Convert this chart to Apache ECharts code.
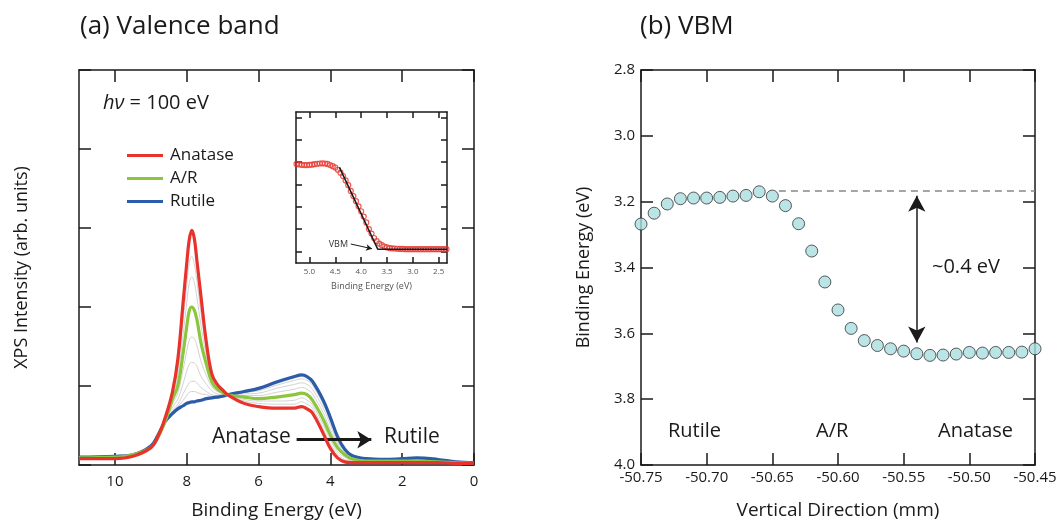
<!DOCTYPE html>
<html>
<head>
<meta charset="utf-8">
<script src="https://cdn.jsdelivr.net/npm/echarts@6/dist/echarts.min.js"></script>
<style>
html, body { margin: 0; padding: 0; background: #fff; }
#main { width: 1060px; height: 521px; }
</style>
</head>
<body>
<div id="main"></div>
<script>
// (a) valence band spectra, binding energy grid (eV)
var be = [11, 10, 9.5, 9.0, 8.8, 8.6, 8.4, 8.25, 8.1, 8.0, 7.93, 7.86, 7.79, 7.72, 7.6, 7.45, 7.3, 7.15, 7.0, 6.86, 6.4, 6.0,
          5.5, 5.0, 4.8, 4.65, 4.5, 4.2, 4.0, 3.8, 3.6, 3.4, 3.0, 2.5, 2.0, 1.6, 1.0, 0.5, 0];
var anatase = [0.08, 0.08, 0.11, 0.22, 0.36, 0.6, 0.92, 1.33, 2.06, 2.55, 2.85, 2.97, 2.87, 2.6, 2.12, 1.54, 1.15, 1.02, 0.95, 0.89, 0.78, 0.74,
               0.72, 0.72, 0.74, 0.71, 0.66, 0.40, 0.21, 0.09, 0.04, 0.03, 0.03, 0.03, 0.03, 0.03, 0.03, 0.02, 0.02];
var mixedAR = [0.09, 0.1, 0.13, 0.22, 0.35, 0.55, 0.83, 1.0, 1.42, 1.75, 1.95, 2.0, 1.96, 1.85, 1.54, 1.27, 1.05, 0.96, 0.92, 0.89, 0.86, 0.84,
               0.86, 0.89, 0.91, 0.89, 0.82, 0.58, 0.38, 0.22, 0.13, 0.08, 0.05, 0.05, 0.05, 0.05, 0.04, 0.03, 0.02];
var rutile = [0.1, 0.11, 0.13, 0.24, 0.38, 0.55, 0.65, 0.71, 0.75, 0.78, 0.79, 0.8, 0.8, 0.81, 0.82, 0.84, 0.85, 0.86, 0.87, 0.89, 0.93, 0.97,
              1.05, 1.12, 1.14, 1.12, 1.06, 0.82, 0.6, 0.36, 0.2, 0.12, 0.08, 0.07, 0.08, 0.09, 0.07, 0.04, 0.03];
// intermediate spectra (thin grey)
var grey1 = [0.08, 0.09, 0.12, 0.22, 0.36, 0.58, 0.89, 1.21, 1.84, 2.27, 2.55, 2.64, 2.55, 2.34, 1.92, 1.45, 1.12, 1.0, 0.94, 0.89, 0.81, 0.78,
             0.77, 0.77, 0.80, 0.77, 0.72, 0.46, 0.27, 0.14, 0.07, 0.05, 0.04, 0.04, 0.04, 0.04, 0.03, 0.02, 0.02];
var grey2 = [0.09, 0.09, 0.12, 0.22, 0.36, 0.57, 0.86, 1.13, 1.66, 2.05, 2.30, 2.38, 2.31, 2.13, 1.76, 1.37, 1.09, 0.98, 0.93, 0.89, 0.83, 0.81,
             0.81, 0.82, 0.85, 0.82, 0.76, 0.51, 0.32, 0.17, 0.10, 0.06, 0.04, 0.04, 0.04, 0.04, 0.04, 0.03, 0.02];
var grey3 = [0.09, 0.10, 0.13, 0.22, 0.36, 0.55, 0.77, 0.91, 1.21, 1.44, 1.58, 1.62, 1.60, 1.52, 1.31, 1.13, 0.99, 0.93, 0.91, 0.89, 0.88, 0.88,
             0.92, 0.96, 0.98, 0.96, 0.90, 0.66, 0.45, 0.27, 0.15, 0.09, 0.06, 0.06, 0.06, 0.06, 0.05, 0.03, 0.02];
var grey4 = [0.10, 0.11, 0.13, 0.23, 0.37, 0.55, 0.73, 0.83, 1.03, 1.19, 1.27, 1.30, 1.29, 1.25, 1.12, 1.02, 0.94, 0.90, 0.89, 0.89, 0.90, 0.91,
             0.97, 1.02, 1.04, 1.02, 0.96, 0.72, 0.51, 0.30, 0.17, 0.10, 0.07, 0.06, 0.07, 0.07, 0.06, 0.04, 0.03];
var grey5 = [0.10, 0.11, 0.13, 0.23, 0.37, 0.55, 0.69, 0.77, 0.90, 0.99, 1.04, 1.06, 1.06, 1.04, 0.98, 0.93, 0.89, 0.88, 0.88, 0.89, 0.92, 0.94,
             1.01, 1.07, 1.09, 1.07, 1.01, 0.77, 0.55, 0.33, 0.19, 0.11, 0.07, 0.06, 0.07, 0.08, 0.06, 0.04, 0.03];
var grey6 = [0.10, 0.11, 0.13, 0.23, 0.38, 0.55, 0.67, 0.74, 0.82, 0.88, 0.92, 0.93, 0.93, 0.92, 0.90, 0.89, 0.87, 0.87, 0.87, 0.89, 0.92, 0.95,
             1.03, 1.10, 1.12, 1.10, 1.04, 0.80, 0.58, 0.34, 0.19, 0.11, 0.08, 0.07, 0.08, 0.09, 0.07, 0.04, 0.03];

// inset: VB edge
var insetBE = [5.25, 5.20, 5.15, 5.10, 5.05, 5.00, 4.95, 4.90, 4.85, 4.80, 4.75, 4.70, 4.65, 4.60, 4.55, 4.50, 4.45, 4.40, 4.35, 4.30,
               4.25, 4.20, 4.15, 4.10, 4.05, 4.00, 3.95, 3.90, 3.85, 3.80, 3.75, 3.70, 3.65, 3.60, 3.55, 3.50, 3.45, 3.40, 3.35, 3.30,
               3.25, 3.20, 3.15, 3.10, 3.05, 3.00, 2.95, 2.90, 2.85, 2.80, 2.75, 2.70, 2.65, 2.60, 2.55, 2.50, 2.45, 2.40, 2.35];
var insetInt = [3.92, 3.90, 3.88, 3.87, 3.87, 3.88, 3.89, 3.91, 3.93, 3.94, 3.95, 3.94, 3.92, 3.87, 3.82, 3.76, 3.66, 3.53, 3.38, 3.18,
                2.97, 2.71, 2.48, 2.25, 2.02, 1.80, 1.56, 1.30, 1.00, 0.80, 0.60, 0.46, 0.35, 0.28, 0.22, 0.18, 0.15, 0.14, 0.13, 0.12,
                0.11, 0.11, 0.10, 0.10, 0.10, 0.10, 0.10, 0.10, 0.10, 0.10, 0.10, 0.10, 0.10, 0.10, 0.10, 0.10, 0.10, 0.10, 0.10];
var fitLine = [[4.42, 3.77], [3.68, 0.10], [2.34, 0.10]];
var insetTicks = [5.0, 4.5, 4.0, 3.5, 3.0, 2.5];

// (b) VBM vs position
var position = [-50.75, -50.74, -50.73, -50.72, -50.71, -50.70, -50.69, -50.68, -50.67, -50.66, -50.65,
                -50.64, -50.63, -50.62, -50.61, -50.60, -50.59, -50.58, -50.57, -50.56, -50.55,
                -50.54, -50.53, -50.52, -50.51, -50.50, -50.49, -50.48, -50.47, -50.46, -50.45];
var vbm = [3.268, 3.235, 3.207, 3.191, 3.189, 3.189, 3.187, 3.183, 3.181, 3.170, 3.183,
           3.212, 3.267, 3.350, 3.444, 3.529, 3.585, 3.622, 3.637, 3.647, 3.654,
           3.662, 3.667, 3.666, 3.663, 3.658, 3.660, 3.658, 3.658, 3.657, 3.647];

var FONT = "'Open Sans', 'Noto Sans', sans-serif";
var INK = '#1a1a1a';

function pairs(xs, ys) {
    var res = [];
    for (var i = 0; i < xs.length; i++) res.push([xs[i], ys[i]]);
    return res;
}

var frameLine = {show: true, onZero: false, lineStyle: {color: INK, width: 1.5}};
function ticks(len, vals) {
    var t = {show: true, inside: true, length: len, lineStyle: {color: INK, width: 1.5}};
    if (vals) t.customValues = vals;
    return t;
}
var noLabel = {show: false};
var noSplit = {show: false};

var chart = echarts.init(document.getElementById('main'));

var greySeries = [grey1, grey2, grey3, grey4, grey5, grey6].map(function (g, i) {
    return {
        name: 'g' + i, type: 'line', xAxisIndex: 0, yAxisIndex: 0,
        data: pairs(be, g), smooth: 0.4, showSymbol: false, silent: true,
        lineStyle: {color: '#d2d2d2', width: 1}, z: 2
    };
});

function mainLine(name, ys, color, z) {
    return {
        name: name, type: 'line', xAxisIndex: 0, yAxisIndex: 0,
        data: pairs(be, ys), smooth: 0.4, showSymbol: false, silent: true,
        itemStyle: {color: color}, lineStyle: {color: color, width: 3.2}, z: z
    };
}

var redSeries = mainLine('Anatase', anatase, '#e8322c', 5);
redSeries.markLine = {
    silent: true, symbol: ['none', 'arrow'], symbolSize: [13, 14],
    label: {show: false}, lineStyle: {color: INK, width: 3, type: 'solid'},
    data: [[{coord: [4.94, 0.32]}, {coord: [2.86, 0.32]}]]
};

var option = {
    backgroundColor: '#fff',
    animation: false,
    textStyle: {fontFamily: FONT},
    grid: [
        {left: 79, right: 586, top: 70, bottom: 56, outerBoundsMode: 'none', containLabel: false},
        {left: 296, top: 112, width: 151, height: 151, outerBoundsMode: 'none', containLabel: false},
        {left: 641, right: 25, top: 70, bottom: 56, outerBoundsMode: 'none', containLabel: false}
    ],
    legend: {
        data: ['Anatase', 'A/R', 'Rutile'],
        orient: 'vertical', left: 127, top: 147, itemGap: 6, padding: 0,
        icon: 'rect', itemWidth: 36, itemHeight: 3,
        selectedMode: false,
        textStyle: {fontSize: 17, color: INK, fontFamily: FONT, padding: [0, 0, 0, 2]}
    },
    xAxis: [
        {gridIndex: 0, type: 'value', min: 0, max: 11, inverse: true, position: 'bottom',
         axisLine: frameLine, axisTick: ticks(12, [0, 2, 4, 6, 8, 10]), splitLine: noSplit,
         axisLabel: {customValues: [0, 2, 4, 6, 8, 10], fontSize: 15, color: INK, margin: 9},
         name: 'Binding Energy (eV)', nameLocation: 'middle', nameGap: 36,
         nameTextStyle: {fontSize: 19, color: INK}},
        {gridIndex: 0, type: 'value', min: 0, max: 11, inverse: true, position: 'top',
         axisLine: frameLine, axisTick: ticks(12, [0, 2, 4, 6, 8, 10]), axisLabel: noLabel, splitLine: noSplit},
        {gridIndex: 1, type: 'value', min: 2.34, max: 5.26, inverse: true, position: 'bottom',
         axisLine: frameLine, axisTick: ticks(6, insetTicks), splitLine: noSplit,
         axisLabel: {customValues: insetTicks, fontSize: 8, color: '#555', margin: 5,
                     formatter: function (v) { return v.toFixed(1); }},
         name: 'Binding Energy (eV)', nameLocation: 'middle', nameGap: 19,
         nameTextStyle: {fontSize: 9, color: '#555'}},
        {gridIndex: 1, type: 'value', min: 2.34, max: 5.26, inverse: true, position: 'top',
         axisLine: frameLine, axisTick: ticks(6, insetTicks), axisLabel: noLabel, splitLine: noSplit},
        {gridIndex: 2, type: 'value', min: -50.75, max: -50.45, interval: 0.05, position: 'bottom',
         axisLine: frameLine, axisTick: ticks(12), splitLine: noSplit,
         axisLabel: {fontSize: 15, color: INK, margin: 5, formatter: function (v) { return v.toFixed(2); }},
         name: 'Vertical Direction (mm)', nameLocation: 'middle', nameGap: 36,
         nameTextStyle: {fontSize: 19, color: INK}},
        {gridIndex: 2, type: 'value', min: -50.75, max: -50.45, interval: 0.05, position: 'top',
         axisLine: frameLine, axisTick: ticks(12), axisLabel: noLabel, splitLine: noSplit}
    ],
    yAxis: [
        {gridIndex: 0, type: 'value', min: 0, max: 5, interval: 1, position: 'left',
         axisLine: frameLine, axisTick: ticks(12), axisLabel: noLabel, splitLine: noSplit,
         name: 'XPS Intensity (arb. units)', nameLocation: 'middle', nameGap: 48,
         nameTextStyle: {fontSize: 18, color: INK}},
        {gridIndex: 0, type: 'value', min: 0, max: 5, interval: 1, position: 'right',
         axisLine: frameLine, axisTick: ticks(12), axisLabel: noLabel, splitLine: noSplit},
        {gridIndex: 1, type: 'value', min: -0.52, max: 6.25, position: 'left',
         axisLine: frameLine, axisTick: ticks(6, [0, 1, 2, 3, 4, 5, 6]), axisLabel: noLabel, splitLine: noSplit},
        {gridIndex: 1, type: 'value', min: -0.52, max: 6.25, position: 'right',
         axisLine: frameLine, axisTick: ticks(6, [0, 1, 2, 3, 4, 5, 6]), axisLabel: noLabel, splitLine: noSplit},
        {gridIndex: 2, type: 'value', min: 2.8, max: 4.0, interval: 0.2, inverse: true, position: 'left',
         axisLine: frameLine, axisTick: ticks(12), splitLine: noSplit,
         axisLabel: {fontSize: 15, color: INK, margin: 6, formatter: function (v) { return v.toFixed(1); }},
         name: 'Binding Energy (eV)', nameLocation: 'middle', nameGap: 48,
         nameTextStyle: {fontSize: 18, color: INK}},
        {gridIndex: 2, type: 'value', min: 2.8, max: 4.0, interval: 0.2, inverse: true, position: 'right',
         axisLine: frameLine, axisTick: ticks(12), axisLabel: noLabel, splitLine: noSplit}
    ],
    series: greySeries.concat([
        mainLine('Rutile', rutile, '#2b5ba9', 3),
        mainLine('A/R', mixedAR, '#8cc63f', 4),
        redSeries,
        {
            name: 'edge', type: 'scatter', xAxisIndex: 2, yAxisIndex: 2,
            data: pairs(insetBE, insetInt), symbol: 'circle', symbolSize: 5, silent: true,
            itemStyle: {color: 'rgba(255,255,255,0)', borderColor: '#e8322c', borderWidth: 1.2}, z: 4
        },
        {
            name: 'fit', type: 'line', xAxisIndex: 2, yAxisIndex: 2,
            data: fitLine, showSymbol: false, silent: true,
            lineStyle: {color: INK, width: 1.5}, z: 5,
            markLine: {
                silent: true, symbol: ['none', 'arrow'], symbolSize: [5, 6],
                label: {show: false}, lineStyle: {color: INK, width: 1, type: 'solid'},
                data: [[{coord: [4.20, 0.33]}, {coord: [3.79, 0.12]}]]
            }
        },
        {
            name: 'VBM', type: 'scatter', xAxisIndex: 4, yAxisIndex: 4,
            data: pairs(position, vbm), symbol: 'circle', symbolSize: 12, silent: true,
            itemStyle: {color: '#a9dde0', borderColor: '#333', borderWidth: 1}, z: 4,
            markLine: {
                silent: true, label: {show: false}, symbol: 'none',
                data: [
                    [{coord: [-50.645, 3.168], lineStyle: {color: '#888', width: 1.5, type: [7, 5]}},
                     {coord: [-50.45, 3.168]}],
                    [{coord: [-50.54, 3.182], symbol: 'arrow', symbolSize: [13, 16],
                      lineStyle: {color: INK, width: 1.5, type: 'solid'}},
                     {coord: [-50.54, 3.628], symbol: 'arrow', symbolSize: [13, 16]}]
                ]
            }
        }
    ]),
    graphic: [
        {type: 'text', x: 80, y: 27, style: {text: '(a) Valence band', fontSize: 26, fontFamily: FONT, fill: INK, verticalAlign: 'middle'}},
        {type: 'text', x: 640, y: 27, style: {text: '(b) VBM', fontSize: 26, fontFamily: FONT, fill: INK, verticalAlign: 'middle'}},
        {type: 'text', x: 103, y: 103, style: {
            text: '{i|hν} = 100 eV', fontSize: 20, fontFamily: FONT, fill: INK, verticalAlign: 'middle',
            rich: {i: {fontStyle: 'italic', fontSize: 20, fontFamily: FONT, fill: INK}}}},
        {type: 'text', x: 212, y: 437, style: {text: 'Anatase', fontSize: 21, fontFamily: FONT, fill: INK, verticalAlign: 'middle'}, z: 10},
        {type: 'text', x: 384, y: 437, style: {text: 'Rutile', fontSize: 21, fontFamily: FONT, fill: INK, verticalAlign: 'middle'}, z: 10},
        {type: 'text', x: 348, y: 244, style: {text: 'VBM', fontSize: 9, fontFamily: FONT, fill: '#333', align: 'right', verticalAlign: 'middle'}, z: 10},
        {type: 'text', x: 932, y: 267, style: {text: '~0.4 eV', fontSize: 20, fontFamily: FONT, fill: INK, verticalAlign: 'middle'}},
        {type: 'text', x: 668, y: 431, style: {text: 'Rutile', fontSize: 20, fontFamily: FONT, fill: INK, verticalAlign: 'middle'}},
        {type: 'text', x: 816, y: 431, style: {text: 'A/R', fontSize: 20, fontFamily: FONT, fill: INK, verticalAlign: 'middle'}},
        {type: 'text', x: 938, y: 431, style: {text: 'Anatase', fontSize: 20, fontFamily: FONT, fill: INK, verticalAlign: 'middle'}}
    ]
};

chart.setOption(option);
</script>
</body>
</html>
